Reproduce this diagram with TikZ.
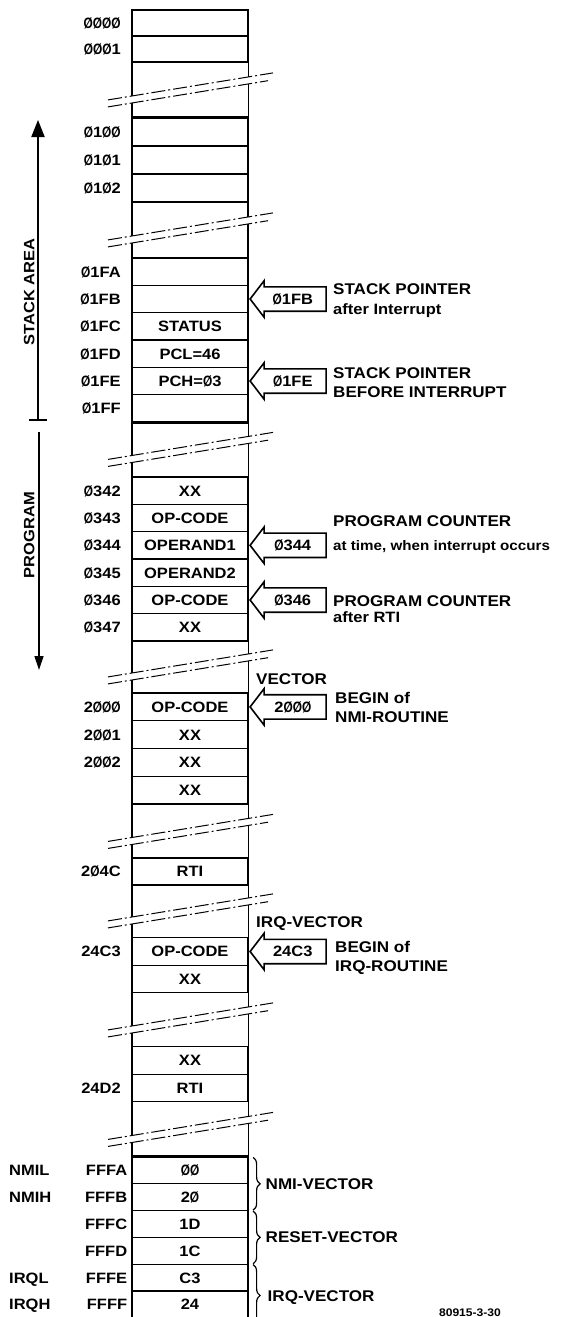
\documentclass[tikz,border=0pt]{standalone}
\usepackage{fontspec}
\setmainfont{Liberation Sans}[FakeStretch=1.1]
\usetikzlibrary{arrows.meta, shapes.arrows, decorations.pathreplacing, positioning}

\newcommand\zr{\scalebox{0.72}[1]{Ø}}

\begin{document}
\begin{tikzpicture}[x=1pt, y=-1pt,
    txt/.style={inner sep=0pt, text height=10.8pt, text depth=0pt, font=\fontsize{15}{15}\selectfont\bfseries},
    cell/.style={txt, draw, line width=1.2pt, minimum width=115pt},
    addr/.style={txt, anchor=east},
    note/.style={txt, anchor=west},
    head/.style={note, text height=11.1pt, font=\fontsize{15.5}{15}\selectfont\bfseries},
    ptr/.style={txt, draw, line width=1.6pt, single arrow, shape border rotate=180, anchor=tip,
      minimum height=76pt, single arrow head extend=6pt, single arrow tip angle=105,
      inner xsep=4pt, inner ysep=6pt},
    brk/.style={line width=1pt, dash pattern=on 14pt off 3pt on 2pt off 3pt},
    vbrace/.style={line width=1.2pt, decorate, decoration={brace, amplitude=7pt}}]
        \useasboundingbox (0,0) rectangle (564,1317);

        % Speicherzellen, Abschnitt fuer Abschnitt
        \foreach \y/\nm/\tx in {23/c0000/{}, 49/c0001/{}}
            \node[cell, minimum height=26pt] (\nm) at (190,\y) {\tx};
        \foreach \y/\nm/\tx in {132/c0100/{}, 160/c0101/{}, 188/c0102/{}}
            \node[cell, minimum height=28pt] (\nm) at (190,\y) {\tx};
        \foreach \y/\nm/\tx in {271.7/c01FA/{}, 299/c01FB/{}, 326.3/c01FC/STATUS,
                353.7/c01FD/PCL=46, 381/c01FE/PCH=\zr3, 408.3/c01FF/{}}
            \node[cell, minimum height=27.33pt] (\nm) at (190,\y) {\tx};
        \foreach \y/\nm/\tx in {490.7/c0342/XX, 518/c0343/OP-CODE, 545.3/c0344/OPERAND1,
                572.7/c0345/OPERAND2, 600/c0346/OP-CODE, 627.3/c0347/XX}
            \node[cell, minimum height=27.33pt] (\nm) at (190,\y) {\tx};
        \foreach \y/\nm/\tx in {706.9/c2000/OP-CODE, 734.6/c2001/XX, 762.4/c2002/XX, 790.1/c2003/XX}
            \node[cell, minimum height=27.75pt] (\nm) at (190,\y) {\tx};
        \node[cell, minimum height=27pt] (c204C) at (190,871.5) {RTI};
        \foreach \y/\nm/\tx in {951.5/c24C3/OP-CODE, 979/c24C4/XX, 1060.5/c24D1/XX, 1088/c24D2/RTI}
            \node[cell, minimum height=27.5pt] (\nm) at (190,\y) {\tx};
        \foreach \y/\nm/\tx in {1170.4/cFFFA/\zr\zr, 1197.2/cFFFB/2\zr, 1224/cFFFC/1D,
                1250.8/cFFFD/1C, 1277.6/cFFFE/C3, 1304.4/cFFFF/24}
            \node[cell, minimum height=26.8pt] (\nm) at (190,\y) {\tx};

        % Seitenlinien und dicke Rahmen
        \draw[line width=1.2pt] (c0000.north west) -- (cFFFF.south west)
            (c0000.north east) -- (cFFFF.south east);
        \draw[line width=2.2pt] (c0100.north west) rectangle (c01FF.south east);
        \draw[line width=2.2pt] (cFFFB.south west) -- (cFFFA.north west)
            -- (cFFFA.north east) -- (cFFFB.south east);

        % Unterbrechungen
        \foreach \yb in {90,230,449.5,667,831.5,911,1020,1129.5} {
            \fill[white] (108,\yb+9.9) -- (273,\yb-17.1) -- (268,\yb-9.3) -- (108,\yb+16.9) -- cycle;
            \draw[brk] (108,\yb+9.9) -- (273,\yb-17.1);
            \draw[brk] (108,\yb+16.9) -- (268,\yb-9.3);
        }

        % Adressen
        \foreach \nm/\ad in {c0000/\zr\zr\zr\zr, c0001/\zr\zr\zr1, c0100/\zr1\zr\zr, c0101/\zr1\zr1,
                c0102/\zr1\zr2, c01FA/\zr1FA, c01FB/\zr1FB, c01FC/\zr1FC, c01FD/\zr1FD,
                c01FE/\zr1FE, c01FF/\zr1FF, c0342/\zr342, c0343/\zr343, c0344/\zr344,
                c0345/\zr345, c0346/\zr346, c0347/\zr347, c2000/2\zr\zr\zr, c2001/2\zr\zr1,
                c2002/2\zr\zr2, c204C/2\zr4C, c24C3/24C3, c24D2/24D2}
            \node[addr, left=11pt of \nm] {\ad};
        \foreach \nm/\ad in {cFFFA/FFFA, cFFFB/FFFB, cFFFC/FFFC, cFFFD/FFFD, cFFFE/FFFE, cFFFF/FFFF}
            \node[addr, left=4.5pt of \nm] {\ad};
        \node[note] (nmil) at (9,1170.4) {NMIL};
        \node[note] (nmih) at (9,1197.2) {NMIH};
        \node[note] (irql) at (9,1277.6) {IRQL};
        \node[note] (irqh) at (9,1304.4) {IRQH};

        % Bereiche links
        \coordinate (satop) at (38,120);
        \coordinate (sabot) at (38,421);
        \draw[line width=2pt, {Bar[width=18pt,line width=2.5pt]}-{Triangle[length=17pt,width=13pt]}] (sabot) -- (satop);
        \node[txt, rotate=90] (lstack) at (29,292) {STACK AREA};
        \coordinate (pgtop) at (39,432);
        \coordinate (pgbot) at (39,670);
        \draw[line width=1.3pt, -{Triangle[length=14pt,width=9pt]}] (pgtop) -- (pgbot);
        \node[txt, rotate=90] (lprog) at (29,535) {PROGRAM};

        % Zeiger rechts
        \node[ptr] (p1FB) at ([xshift=1pt]c01FB.east) {\zr1FB};
        \node[head] (sp1) at (333,289) {STACK POINTER};
        \node[note] (sp1b) at (333,309) {after Interrupt};
        \node[ptr] (p1FE) at ([xshift=1pt]c01FE.east) {\zr1FE};
        \node[head] (sp2) at (333,373) {STACK POINTER};
        \node[head] (sp2b) at (333,392) {BEFORE INTERRUPT};
        \node[ptr] (p344) at ([xshift=1pt]c0344.east) {\zr344};
        \node[head] (pc1) at (333,521) {PROGRAM COUNTER};
        \node[note, text height=10pt, font=\fontsize{13.8}{14}\selectfont\bfseries] (pc1b) at (333,545) {at time, when interrupt occurs};
        \node[ptr] (p346) at ([xshift=1pt]c0346.east) {\zr346};
        \node[head] (pc2) at (333,601) {PROGRAM COUNTER};
        \node[note] (pc2b) at (333,617) {after RTI};
        \node[head] (nvec) at (256,679) {VECTOR};
        \node[ptr] (p2000) at ([xshift=1pt]c2000.east) {2\zr\zr\zr};
        \node[head] (nbeg) at (335,698) {BEGIN of};
        \node[head] (nrout) at (335,717) {NMI-ROUTINE};
        \node[head] (ivec) at (256,922) {IRQ-VECTOR};
        \node[ptr] (p24C3) at ([xshift=1pt]c24C3.east) {24C3};
        \node[head] (ibeg) at (335,947) {BEGIN of};
        \node[head] (irout) at (335,966) {IRQ-ROUTINE};

        % Vektoren
        \draw[vbrace] ([xshift=5pt,yshift=-1pt]cFFFA.north east)
            -- node[head, midway, xshift=12pt] (vnmi) {NMI-VECTOR} ([xshift=5pt,yshift=1pt]cFFFB.south east);
        \draw[vbrace] ([xshift=5pt,yshift=-1pt]cFFFC.north east)
            -- node[head, midway, xshift=12pt] (vres) {RESET-VECTOR} ([xshift=5pt,yshift=1pt]cFFFD.south east);
        \draw[vbrace] ([xshift=5pt,yshift=-1pt]cFFFE.north east)
            -- node[head, midway, xshift=14pt] (virq) {IRQ-VECTOR} ([xshift=5pt,yshift=-8pt]cFFFF.south east);

        \node[txt, text height=8pt, font=\fontsize{11}{11}\selectfont\bfseries] (fig) at (470,1312) {80915-3-30};
\end{tikzpicture}
\end{document}
